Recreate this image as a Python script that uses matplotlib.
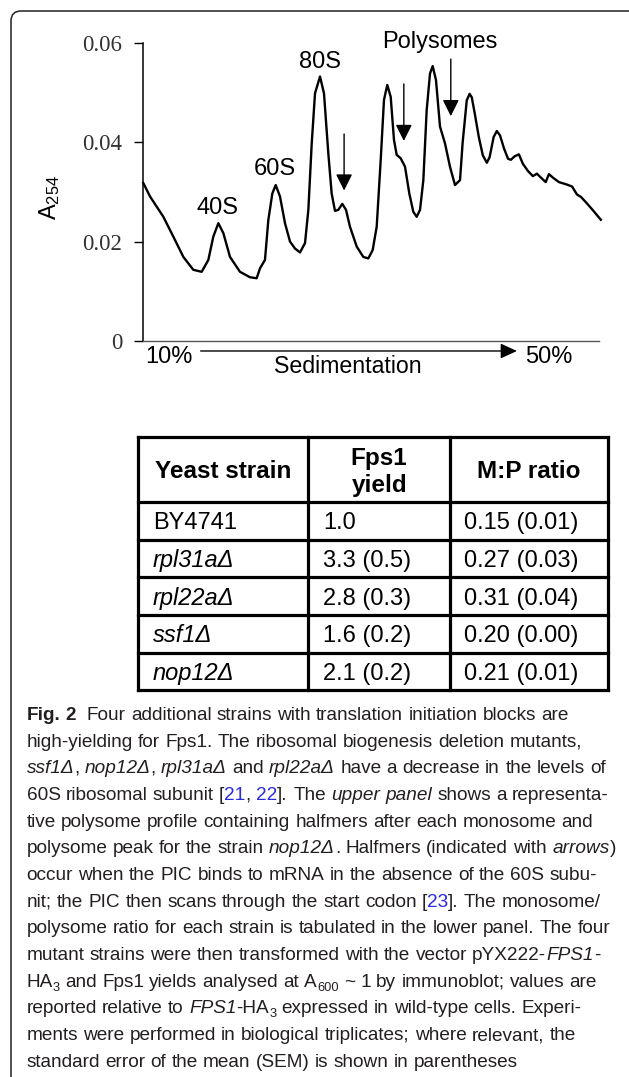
import re
import matplotlib
matplotlib.use('Agg')
import matplotlib.pyplot as plt
from matplotlib.patches import FancyBboxPatch

plt.rcParams['font.family'] = ['Liberation Sans', 'DejaVu Sans']
plt.rcParams['mathtext.fontset'] = 'custom'
plt.rcParams['mathtext.rm'] = 'Liberation Sans'
plt.rcParams['mathtext.it'] = 'Liberation Sans:italic'

# polysome profile (gradient position in %, A254)
position = [0.07, 1.54, 4.46, 6.65, 8.85, 11.04, 12.87, 14.33, 15.42, 16.52, 17.62, 19.08,
            21.27, 23.46, 24.93, 25.66, 26.75, 27.48, 28.36, 29.1, 30.04, 31.14, 32.24,
            33.33, 34.43, 35.53, 36.26, 37.0, 37.72, 38.82, 39.69, 40.64, 41.37, 42.1,
            42.83, 43.71, 44.52, 45.39, 46.86, 48.31, 49.41, 50.37, 51.25, 52.13, 52.85,
            53.57, 54.32, 55.04, 55.63, 56.51, 57.46, 58.4, 59.28, 60.02, 60.75, 61.48,
            62.21, 62.94, 63.53, 64.25, 65.13, 66.23, 67.32, 68.42, 69.52, 70.1, 71.0,
            71.62, 72.1, 72.76, 73.64, 74.52, 75.4, 76.0, 76.9, 77.59, 78.3, 79.2, 80.05,
            80.67, 81.5, 82.43, 83.3, 84.45, 85.5, 86.38, 87.26, 88.31, 89.02, 89.89,
            91.21, 92.97, 94.1, 95.17, 96.05, 97.36, 98.68, 100.4]
absorbance = [0.0318, 0.0291, 0.0250, 0.0210, 0.0169, 0.0143, 0.0139, 0.0163, 0.0210, 0.0237,
              0.0217, 0.0169, 0.0139, 0.0128, 0.0126, 0.0146, 0.0163, 0.0243, 0.0297, 0.0314,
              0.0291, 0.0237, 0.0200, 0.0186, 0.0178, 0.0197, 0.0264, 0.0398, 0.0499, 0.0533,
              0.0499, 0.0378, 0.0297, 0.0262, 0.0264, 0.0276, 0.0264, 0.0230, 0.0190, 0.0169,
              0.0166, 0.0183, 0.0230, 0.0365, 0.0486, 0.0516, 0.0492, 0.0405, 0.0375, 0.0368,
              0.0351, 0.0297, 0.0260, 0.0250, 0.0264, 0.0324, 0.0465, 0.0539, 0.0554, 0.0526,
              0.0432, 0.0398, 0.0351, 0.0314, 0.0324, 0.0400, 0.0485, 0.0498, 0.0491, 0.0458,
              0.0411, 0.0374, 0.0359, 0.0370, 0.0411, 0.0423, 0.0414, 0.0387, 0.0367, 0.0365,
              0.0372, 0.0376, 0.0357, 0.0342, 0.0332, 0.0337, 0.0329, 0.0320, 0.0336, 0.0329,
              0.0320, 0.0315, 0.0311, 0.0295, 0.0290, 0.0277, 0.0263, 0.0244]

yticks = [0, 0.02, 0.04, 0.06]
ytick_labels = ['0', '0.02', '0.04', '0.06']

peak_labels = ['40S', '60S', '80S', 'Polysomes']
peak_label_x = [16.3, 29.0, 38.9, 65.1]
peak_label_y = [0.0256, 0.0334, 0.0550, 0.0590]

# halfmer arrows: x, tail, tip
halfmer_x = [44.1, 57.2, 67.5]
halfmer_tail = [0.0417, 0.0518, 0.0568]
halfmer_tip = [0.0303, 0.0403, 0.0453]

# table
col_heads = ['Yeast strain', 'Fps1\nyield', 'M:P ratio']
strains = ['BY4741', 'rpl31aΔ', 'rpl22aΔ', 'ssf1Δ', 'nop12Δ']
strain_italic = [False, True, True, True, True]
fps1_yield = ['1.0', '3.3 (0.5)', '2.8 (0.3)', '1.6 (0.2)', '2.1 (0.2)']
mp_ratio = ['0.15 (0.01)', '0.27 (0.03)', '0.31 (0.04)', '0.20 (0.00)', '0.21 (0.01)']

caption = [
    '<b>Fig. 2</b>  Four additional strains with translation initiation blocks are',
    'high-yielding for Fps1. The ribosomal biogenesis deletion mutants,',
    '<i>ssf1Δ</i>, <i>nop12Δ</i>, <i>rpl31aΔ</i> and <i>rpl22aΔ</i> have a decrease in the levels of',
    '60S ribosomal subunit [<l>21</l>, <l>22</l>]. The <i>upper panel</i> shows a representa-',
    'tive polysome profile containing halfmers after each monosome and',
    'polysome peak for the strain <i>nop12Δ</i>. Halfmers (indicated with <i>arrows</i>)',
    'occur when the PIC binds to mRNA in the absence of the 60S subu-',
    'nit; the PIC then scans through the start codon [<l>23</l>]. The monosome/',
    'polysome ratio for each strain is tabulated in the lower panel. The four',
    'mutant strains were then transformed with the vector pYX222-<i>FPS1</i>-',
    'HA<s>3</s> and Fps1 yields analysed at A<s>600</s> ~ 1 by immunoblot; values are',
    'reported relative to <i>FPS1</i>-HA<s>3</s> expressed in wild-type cells. Experi-',
    'ments were performed in biological triplicates; where relevant, the',
    'standard error of the mean (SEM) is shown in parentheses',
]

W, H = 629, 1077
fig = plt.figure(figsize=(W / 100, H / 100), dpi=100)

# ---- profile plot ----
ax = fig.add_axes([143 / W, 1 - 340.7 / H, 456 / W, 297.4 / H])
ax.plot(position, absorbance, color='black', lw=1.7, clip_on=False, solid_joinstyle='round')
ax.set_xlim(0, 100)
ax.set_ylim(0, 0.06)
ax.spines[['top', 'right']].set_visible(False)
ax.spines['bottom'].set_color('#555555')
ax.spines['bottom'].set_linewidth(1.0)
ax.spines['left'].set_linewidth(1.1)
ax.set_xticks([])
ax.set_yticks(yticks)
ax.set_yticklabels(ytick_labels, family='Liberation Serif', fontsize=16.5, color='#333333')
ax.tick_params(axis='y', length=6.5, width=1, pad=8.5)

for lab, x, y in zip(peak_labels, peak_label_x, peak_label_y):
    ax.text(x, y, lab, ha='center', va='baseline', fontsize=17, clip_on=False)
for x, y0, y1 in zip(halfmer_x, halfmer_tail, halfmer_tip):
    ax.annotate('', xy=(x, y1), xytext=(x, y0), annotation_clip=False,
                arrowprops=dict(arrowstyle='-|>,head_length=0.5,head_width=0.25',
                                mutation_scale=20, lw=1, color='black', shrinkA=0, shrinkB=0))

ax.text(-0.204, 0.483, 'A$_{254}$', rotation=90, ha='center', va='center', fontsize=17,
        transform=ax.transAxes)
ax.text(0.057, -0.076, '10%', ha='center', va='baseline', fontsize=17, transform=ax.transAxes)
ax.text(0.890, -0.076, '50%', ha='center', va='baseline', fontsize=17, transform=ax.transAxes)
ax.text(0.4496, -0.1086, 'Sedimentation', ha='center', va='baseline', fontsize=16.7,
        transform=ax.transAxes)
ax.annotate('', xy=(0.820, -0.0346), xytext=(0.1265, -0.0346), xycoords='axes fraction',
            annotation_clip=False,
            arrowprops=dict(arrowstyle='-|>,head_length=0.5,head_width=0.23',
                            mutation_scale=20, lw=1, color='black', shrinkA=0, shrinkB=0))

# ---- overlay in pixel coordinates (y downwards) ----
ov = fig.add_axes([0, 0, 1, 1])
ov.set_xlim(0, W)
ov.set_ylim(H, 0)
ov.axis('off')

ov.add_patch(FancyBboxPatch((11, 11), 900, 1300, boxstyle='round,pad=0,rounding_size=10',
                            fill=False, ec='#222222', lw=1.1))

# table
col_x = [138.3, 308.3, 450, 608.3]
row_y = [437, 502.3, 539.8, 577.4, 614.9, 652.5, 690]
for x in col_x:
    ov.plot([x, x], [row_y[0], row_y[-1]], color='black', lw=2.3, solid_capstyle='projecting')
for y in row_y:
    ov.plot([col_x[0], col_x[-1]], [y, y], color='black', lw=2.3, solid_capstyle='projecting')

head_mid = (row_y[0] + row_y[1]) / 2
for i, head in enumerate(col_heads):
    cx = (col_x[i] + col_x[i + 1]) / 2
    lines = head.split('\n')
    base = head_mid + 8.7 - (len(lines) - 1) * 13.6
    for k, ln in enumerate(lines):
        ov.text(cx, base + k * 27.3, ln, ha='center', va='baseline', fontsize=17.5,
                weight='bold')

for r in range(len(strains)):
    yb = (row_y[r + 1] + row_y[r + 2]) / 2 + 8.4
    ov.text(col_x[0] + 14.5, yb, strains[r], ha='left', va='baseline', fontsize=17,
            style='italic' if strain_italic[r] else 'normal')
    ov.text(col_x[1] + 14.5, yb, fps1_yield[r], ha='left', va='baseline', fontsize=17)
    ov.text(col_x[2] + 14.5, yb, mp_ratio[r], ha='left', va='baseline', fontsize=17)

# caption
cap_family = 'Liberation Sans'
cap_size = 13.7
cap_color = '#231f20'
styles = {
    'n': dict(),
    'i': dict(style='italic'),
    'b': dict(weight='bold'),
    'l': dict(color='#2a2ae0'),
}

renderer = fig.canvas.get_renderer()


def parse(line):
    words = [[]]
    for run in re.split(r'(<[ibls]>.*?</[ibls]>)', line):
        if not run:
            continue
        m = re.match(r'<([ibls])>(.*?)</\1>', run)
        st, txt = (m.group(1), m.group(2)) if m else ('n', run)
        for k, p in enumerate(txt.split(' ')):
            if k > 0:
                words.append([])
            if p:
                words[-1].append((p, st))
    return words


def put(x, y, txt, st):
    kw = dict(family=[cap_family, 'DejaVu Sans'], fontsize=cap_size, color=cap_color)
    dy = 0
    if st == 's':
        kw['fontsize'] = cap_size * 0.68
        dy = cap_size * 0.3
    else:
        kw.update(styles[st])
    t = ov.text(x, y + dy, txt, ha='left', va='baseline', **kw)
    return t.get_window_extent(renderer).width


t1 = ov.text(0, 0, 'a a', family=cap_family, fontsize=cap_size)
t2 = ov.text(0, 0, 'aa', family=cap_family, fontsize=cap_size)
space_w = t1.get_window_extent(renderer).width - t2.get_window_extent(renderer).width
t1.remove()
t2.remove()

for i, line in enumerate(caption):
    y = 720 + i * 26.67
    x = 26.5
    for wi, word in enumerate(parse(line)):
        if wi > 0:
            x += space_w
        for txt, st in word:
            x += put(x, y, txt, st)

fig.savefig('out.png', dpi=100)
